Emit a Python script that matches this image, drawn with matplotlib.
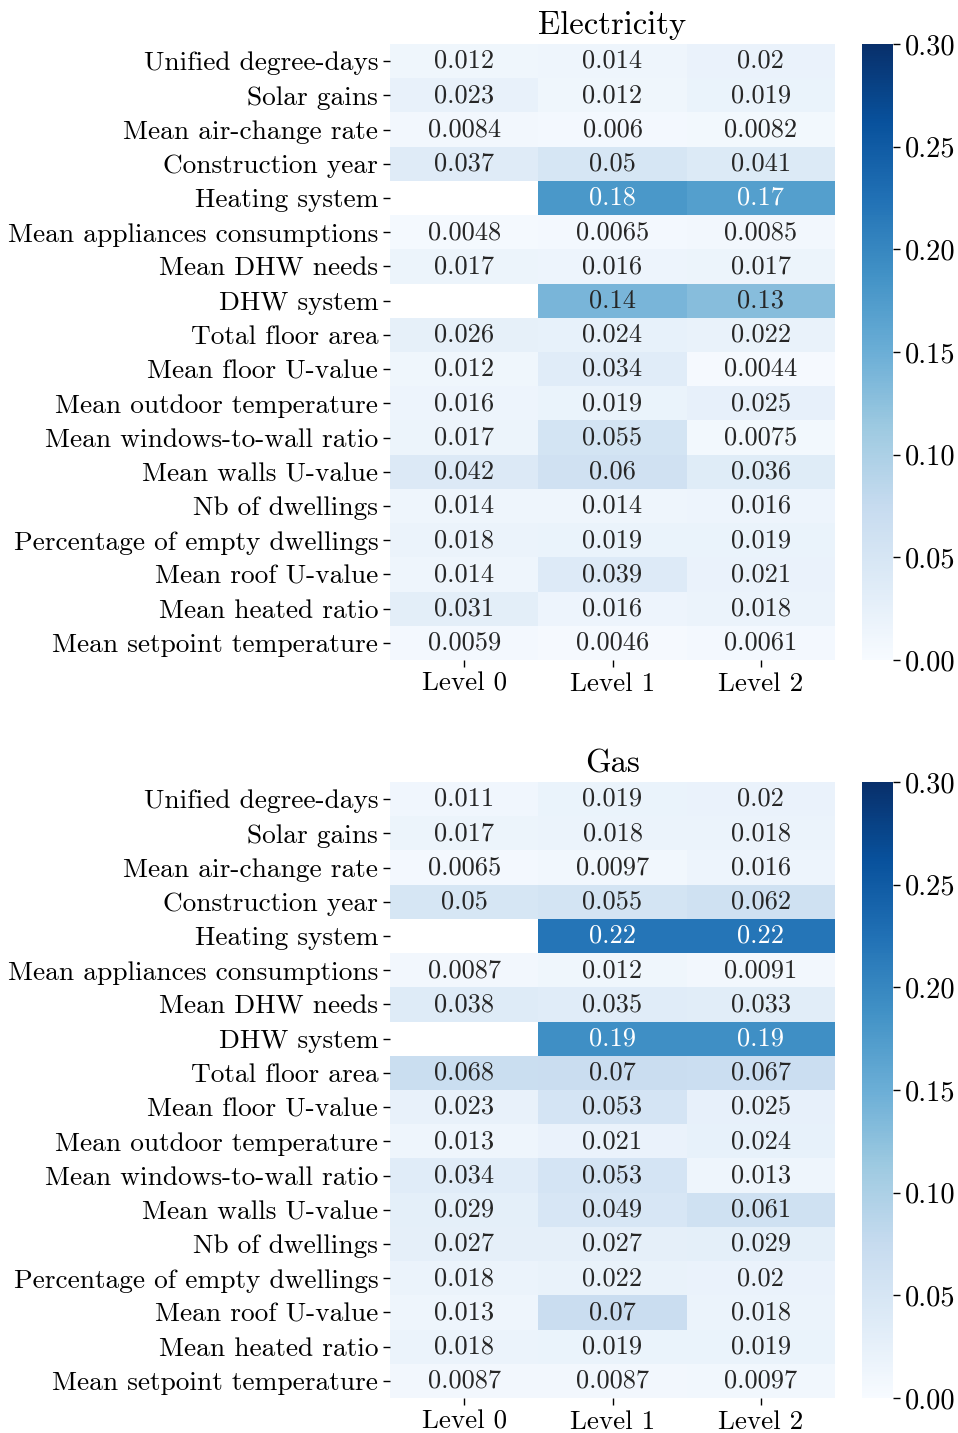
import numpy as np
import matplotlib
matplotlib.use("Agg")
import matplotlib.pyplot as plt

plt.rcParams['font.family'] = ['cmr10', 'DejaVu Serif']
plt.rcParams['mathtext.fontset'] = 'cm'
plt.rcParams['axes.formatter.use_mathtext'] = True

features = [
    "Unified degree-days", "Solar gains", "Mean air-change rate",
    "Construction year", "Heating system", "Mean appliances consumptions",
    "Mean DHW needs", "DHW system", "Total floor area", "Mean floor U-value",
    "Mean outdoor temperature", "Mean windows-to-wall ratio",
    "Mean walls U-value", "Nb of dwellings", "Percentage of empty dwellings",
    "Mean roof U-value", "Mean heated ratio", "Mean setpoint temperature",
]
levels = ["Level 0", "Level 1", "Level 2"]

elec_l0 = [0.012, 0.023, 0.0084, 0.037, np.nan, 0.0048, 0.017, np.nan, 0.026,
           0.012, 0.016, 0.017, 0.042, 0.014, 0.018, 0.014, 0.031, 0.0059]
elec_l1 = [0.014, 0.012, 0.006, 0.05, 0.18, 0.0065, 0.016, 0.14, 0.024,
           0.034, 0.019, 0.055, 0.06, 0.014, 0.019, 0.039, 0.016, 0.0046]
elec_l2 = [0.02, 0.019, 0.0082, 0.041, 0.17, 0.0085, 0.017, 0.13, 0.022,
           0.0044, 0.025, 0.0075, 0.036, 0.016, 0.019, 0.021, 0.018, 0.0061]

gas_l0 = [0.011, 0.017, 0.0065, 0.05, np.nan, 0.0087, 0.038, np.nan, 0.068,
          0.023, 0.013, 0.034, 0.029, 0.027, 0.018, 0.013, 0.018, 0.0087]
gas_l1 = [0.019, 0.018, 0.0097, 0.055, 0.22, 0.012, 0.035, 0.19, 0.07,
          0.053, 0.021, 0.053, 0.049, 0.027, 0.022, 0.07, 0.019, 0.0087]
gas_l2 = [0.02, 0.018, 0.016, 0.062, 0.22, 0.0091, 0.033, 0.19, 0.067,
          0.025, 0.024, 0.013, 0.061, 0.029, 0.02, 0.018, 0.019, 0.0097]

cmap = plt.get_cmap("Blues")
vmin, vmax = 0.0, 0.3

fig = plt.figure(figsize=(9.58, 14.33), dpi=100)


def draw(ax_rect, cax_rect, title, cols):
    data = np.array(cols).T
    ax = fig.add_axes(ax_rect)
    cax = fig.add_axes(cax_rect)
    masked = np.ma.masked_invalid(data)
    mesh = ax.pcolormesh(masked, cmap=cmap, vmin=vmin, vmax=vmax)
    ax.set_xlim(0, data.shape[1])
    ax.set_ylim(data.shape[0], 0)
    # annotate every cell, white text on the dark ones
    for i in range(data.shape[0]):
        for j in range(data.shape[1]):
            v = data[i, j]
            if np.isnan(v):
                continue
            r, g, b, _ = cmap((v - vmin) / (vmax - vmin))
            lum = 0.2126 * r + 0.7152 * g + 0.0722 * b
            ax.text(j + 0.5, i + 0.5, f"{v:.2g}", ha="center", va="center",
                    fontsize=19, color="white" if lum < 0.6 else "#262626")
    ax.set_xticks(np.arange(data.shape[1]) + 0.5)
    ax.set_xticklabels(levels, fontsize=19.5)
    ax.set_yticks(np.arange(data.shape[0]) + 0.5)
    ax.set_yticklabels(features, fontsize=19.7)
    ax.tick_params(length=5, width=1)
    for s in ax.spines.values():
        s.set_visible(False)
    ax.set_title(title, fontsize=23.5, pad=7)
    cb = fig.colorbar(mesh, cax=cax)
    cb.outline.set_visible(False)
    cb.set_ticks([0, 0.05, 0.1, 0.15, 0.2, 0.25, 0.3])
    cb.ax.set_yticklabels(["0.00", "0.05", "0.10", "0.15", "0.20", "0.25", "0.30"])
    cb.ax.tick_params(labelsize=20.5, length=5, width=1)


W, H = 958, 1433
draw([390 / W, 1 - 660 / H, 445 / W, 616 / H],
     [862 / W, 1 - 660 / H, 31 / W, 616 / H], "Electricity",
     [elec_l0, elec_l1, elec_l2])
draw([390 / W, 1 - 1398 / H, 445 / W, 616 / H],
     [862 / W, 1 - 1398 / H, 31 / W, 616 / H], "Gas",
     [gas_l0, gas_l1, gas_l2])

fig.savefig("out.png", dpi=100)
